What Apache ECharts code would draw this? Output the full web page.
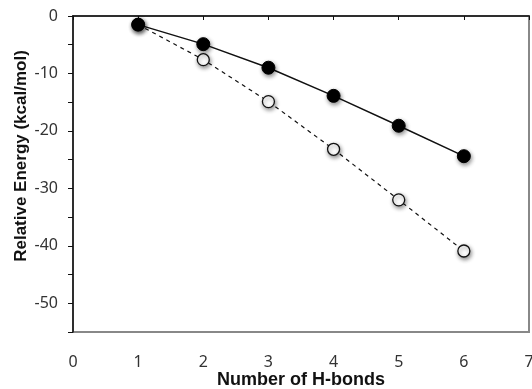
<!DOCTYPE html>
<html>
<head>
<meta charset="utf-8">
<script src="https://cdn.jsdelivr.net/npm/echarts@6/dist/echarts.min.js"></script>
<style>
  html, body { margin: 0; padding: 0; background: #fff; }
  #chart { width: 532px; height: 389px; }
</style>
</head>
<body>
<div id="chart"></div>
<script>
// H-bond counts and energies
const hbonds = [1, 2, 3, 4, 5, 6];
const filledEnergy = [-1.5, -4.9, -9.0, -13.9, -19.1, -24.4];
const openEnergy = [-1.5, -7.6, -14.9, -23.2, -32.0, -40.9];
const yLabels = { 0: '0', '-10': '-10', '-20': '-20', '-30': '-30', '-40': '-40', '-50': '-50' };

const toPairs = (xs, ys) => xs.map((x, i) => [x, ys[i]]);

const chart = echarts.init(document.getElementById('chart'));

const markerShadow = {
  shadowBlur: 4,
  shadowColor: 'rgba(0,0,0,0.45)',
  shadowOffsetX: 1,
  shadowOffsetY: 2,
};

chart.setOption({
  animation: false,
  backgroundColor: '#fff',
  grid: {
    left: 73,
    right: 3,
    top: 16,
    bottom: 57,
    outerBoundsMode: 'none',
    containLabel: false,
    show: true,
    borderColor: '#888',
    borderWidth: 2,
  },
  xAxis: {
    type: 'value',
    min: 0,
    max: 7,
    interval: 1,
    name: 'Number of H-bonds',
    nameLocation: 'middle',
    nameGap: 39,
    nameMoveOverlap: false,
    nameTextStyle: {
      fontFamily: 'Liberation Sans',
      fontWeight: 'bold',
      fontSize: 18,
      color: '#111',
    },
    axisLine: { lineStyle: { color: '#111', width: 1.5 } },
    axisTick: { show: true, length: 4, lineStyle: { color: '#111' } },
    axisLabel: {
      margin: 22,
      fontFamily: 'Noto Sans',
      fontSize: 16,
      color: '#333',
    },
    splitLine: { show: false },
  },
  yAxis: {
    type: 'value',
    min: -55,
    max: 0,
    interval: 5,
    name: 'Relative Energy (kcal/mol)',
    nameLocation: 'middle',
    nameGap: 43,
    nameMoveOverlap: false,
    nameTextStyle: {
      fontFamily: 'Liberation Sans',
      fontWeight: 'bold',
      fontSize: 17,
      color: '#111',
      padding: [0, 0, 0, 36],
    },
    axisLine: { show: true, lineStyle: { color: '#111', width: 1.5 } },
    axisTick: { show: true, length: 5, lineStyle: { color: '#111' } },
    axisLabel: {
      margin: 15,
      fontFamily: 'Noto Sans',
      fontSize: 16,
      color: '#333',
      formatter: (v) => (yLabels[v] !== undefined ? yLabels[v] : ''),
    },
    splitLine: { show: false },
  },
  series: [
    {
      type: 'line',
      data: toPairs(hbonds, openEnergy),
      symbol: 'circle',
      symbolSize: 12,
      lineStyle: { color: '#111', width: 1.2, type: [4, 4] },
      itemStyle: Object.assign({ color: '#fff', borderColor: '#111', borderWidth: 1.3 }, markerShadow),
      z: 2,
    },
    {
      type: 'line',
      data: toPairs(hbonds, filledEnergy),
      symbol: 'circle',
      symbolSize: 13,
      lineStyle: { color: '#111', width: 1.5 },
      itemStyle: Object.assign({ color: '#000', borderColor: '#000', borderWidth: 1 }, markerShadow),
      z: 3,
    },
  ],
});
</script>
</body>
</html>
